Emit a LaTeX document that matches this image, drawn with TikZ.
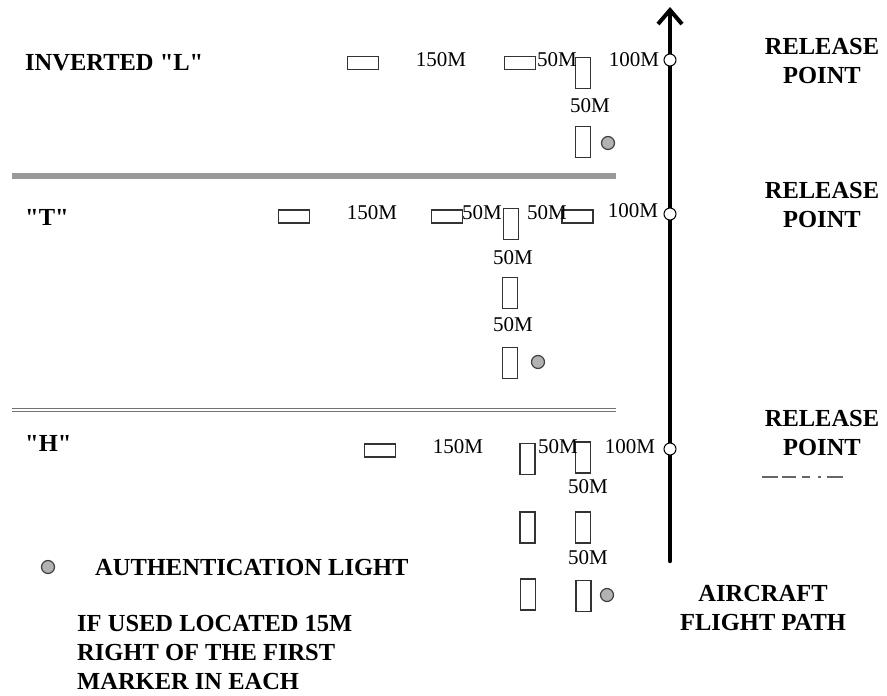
\documentclass[tikz,border=0pt]{standalone}
\usepackage{fontspec}
\setmainfont{Liberation Serif}[Ligatures=TeXOff]
\usetikzlibrary{arrows.meta}
\begin{document}
\begin{tikzpicture}[x=1pt,y=-1pt,
  big/.style={font=\fontsize{24.5}{28}\selectfont\bfseries, inner sep=0pt, anchor=base},
  bigl/.style={big, anchor=base west},
  lbl/.style={font=\fontsize{21}{24}\selectfont, inner sep=0pt, anchor=base},
  hmark/.style={draw=black!80, line width=1.3pt, minimum width=31pt, minimum height=13pt, inner sep=0pt},
  vmark/.style={draw=black!80, line width=1.3pt, minimum width=15pt, minimum height=31pt, inner sep=0pt},
  alight/.style={circle, draw=black!75, fill=black!30, line width=1.2pt, minimum size=13pt, inner sep=0pt},
  rpoint/.style={circle, draw=black, fill=white, line width=1pt, minimum size=12pt, inner sep=0pt},
  sepline/.style={draw=black!40, line width=6pt},
  sepdouble/.style={draw=black!55, line width=1.7pt, double=white, double distance=1.4pt},
]
\useasboundingbox (0,0) rectangle (887,696);

% flight path
\coordinate (fpbot) at (670,561);
\coordinate (fptop) at (670,7);
\draw[line width=4.5pt, line cap=round, -{Straight Barb[length=14pt, width=24pt, line width=4pt]}] (fpbot) -- (fptop);
\node[rpoint] (rp1) at (670,60) {};
\node[rpoint] (rp2) at (670,214) {};
\node[rpoint] (rp3) at (670,449) {};

% right labels
\node[big] (rel1) at (822,54) {RELEASE};
\node[big] (pt1) at (822,83) {POINT};
\node[big] (rel2) at (822,198) {RELEASE};
\node[big] (pt2) at (822,227) {POINT};
\node[big] (rel3) at (822,426) {RELEASE};
\node[big] (pt3) at (822,455) {POINT};
\coordinate (dl1) at (762,477);
\coordinate (dl2) at (852,477);
\draw[black!60, line width=1.2pt, dash pattern=on 16pt off 4pt on 14pt off 6pt on 8pt off 8pt on 3pt off 6pt on 16pt] (dl1) -- (dl2);
\node[big] (acft) at (763,601) {AIRCRAFT};
\node[big] (fpth) at (763,630) {FLIGHT PATH};

% separators
\coordinate (s1a) at (12,176);
\coordinate (s1b) at (616,176);
\draw[sepline] (s1a) -- (s1b);
\coordinate (s2a) at (12,410);
\coordinate (s2b) at (616,410);
\draw[sepdouble] (s2a) -- (s2b);

% section 1: inverted L
\node[bigl] (tL) at (25,70) {INVERTED "L"};
\node[hmark] (h1a) at (363,63) {};
\node[hmark] (h1b) at (520,63) {};
\node[vmark] (v1a) at (583,73) {};
\node[vmark] (v1b) at (583,142) {};
\node[alight] (al1) at (608,143) {};
\node[lbl] (l1a) at (441,66) {150M};
\node[lbl] (l1b) at (557,66) {50M};
\node[lbl] (l1c) at (634,66) {100M};
\node[lbl] (l1d) at (590,112) {50M};

% section 2: T
\node[bigl] (tT) at (25,225) {"T"};
\node[hmark] (h2a) at (294,216.5) {};
\node[hmark] (h2b) at (447,216.5) {};
\node[vmark] (v2a) at (511,224) {};
\node[hmark] (h2c) at (577.5,216.5) {};
\node[vmark] (v2b) at (510,293) {};
\node[vmark] (v2c) at (510,363) {};
\node[alight] (al2) at (538,362) {};
\node[lbl] (l2a) at (372,219) {150M};
\node[lbl] (l2b) at (482,219) {50M};
\node[lbl] (l2c) at (547,219) {50M};
\node[lbl] (l2d) at (633,217) {100M};
\node[lbl] (l2e) at (513,264) {50M};
\node[lbl] (l2f) at (513,331) {50M};

% section 3: H
\node[bigl] (tH) at (25,451) {"H"};
\node[hmark] (h3a) at (380,450.5) {};
\node[vmark] (v3a) at (527.5,459) {};
\node[vmark] (v3b) at (583,457.5) {};
\node[vmark] (v3c) at (527.5,527.5) {};
\node[vmark] (v3d) at (583,527.5) {};
\node[vmark] (v3e) at (528,594.5) {};
\node[vmark] (v3f) at (583.5,596) {};
\node[alight] (al3) at (607,595) {};
\node[lbl] (l3a) at (458,453) {150M};
\node[lbl] (l3b) at (558,453) {50M};
\node[lbl] (l3c) at (630,453) {100M};
\node[lbl] (l3d) at (588,493) {50M};
\node[lbl] (l3e) at (588,564) {50M};

% legend
\node[alight] (alg) at (48,567) {};
\node[bigl] (algt) at (95,575) {AUTHENTICATION LIGHT};
\node[bigl] (n1) at (77,631) {IF USED LOCATED 15M};
\node[bigl] (n2) at (77,660) {RIGHT OF THE FIRST};
\node[bigl] (n3) at (77,689) {MARKER IN EACH};
\end{tikzpicture}
\end{document}
